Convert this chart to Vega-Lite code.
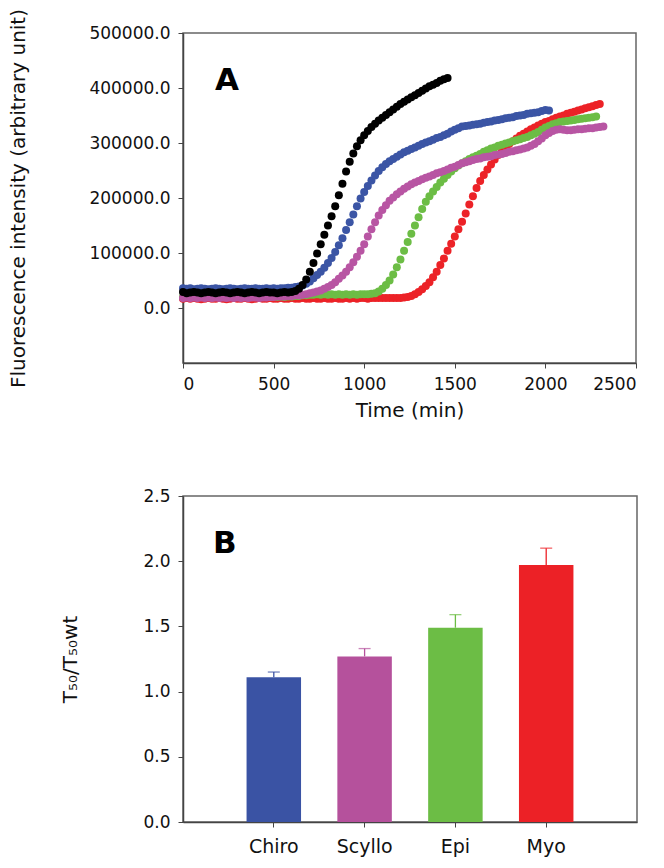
{
  "$schema": "https://vega.github.io/schema/vega-lite/v6.json",
  "padding": {"left": 8, "top": 7, "right": 5, "bottom": 5},
  "bounds": "flush",
  "spacing": 133,
  "resolve": {"scale": {"color": "independent"}},
  "config": {
    "font": "DejaVu Sans",
    "view": {"stroke": "#666666", "strokeWidth": 1.5},
    "axis": {
      "domainColor": "#444444", "domainWidth": 1.5, "tickColor": "#444444", "tickSize": 5,
      "labelFontSize": 17, "labelColor": "#111111", "labelPadding": 8, "labelFont": "DejaVu Sans",
      "titleFontSize": 20, "titleFontWeight": "normal", "titleColor": "#111111", "titleFont": "DejaVu Sans", "grid": false
    }
  },
  "vconcat": [
    {
      "width": 453,
      "height": 330,
      "data": {"values": [
        {"t":0,"s5":29000,"s4":36000,"s3":18000,"s2":20000,"s1":17000},
        {"t":20,"s5":27000,"s4":35000,"s3":19000,"s2":21000,"s1":18000},
        {"t":40,"s5":28000,"s4":36000,"s3":18000,"s2":20000,"s1":17000},
        {"t":60,"s5":29000,"s4":34000,"s3":19000,"s2":21000,"s1":18000},
        {"t":80,"s5":28000,"s4":35000,"s3":18000,"s2":20000,"s1":17000},
        {"t":100,"s5":27000,"s4":36000,"s3":19000,"s2":20000,"s1":16000},
        {"t":120,"s5":28000,"s4":35000,"s3":18000,"s2":21000,"s1":17000},
        {"t":140,"s5":29000,"s4":34000,"s3":19000,"s2":20000,"s1":18000},
        {"t":160,"s5":28000,"s4":35000,"s3":18000,"s2":20000,"s1":17000},
        {"t":180,"s5":27000,"s4":36000,"s3":19000,"s2":21000,"s1":17000},
        {"t":200,"s5":28000,"s4":35000,"s3":18000,"s2":20000,"s1":18000},
        {"t":220,"s5":29000,"s4":34000,"s3":19000,"s2":20000,"s1":17000},
        {"t":240,"s5":28000,"s4":35000,"s3":18000,"s2":21000,"s1":16000},
        {"t":260,"s5":27000,"s4":36000,"s3":19000,"s2":20000,"s1":17000},
        {"t":280,"s5":28000,"s4":35000,"s3":18000,"s2":20000,"s1":18000},
        {"t":300,"s5":29000,"s4":34000,"s3":19000,"s2":21000,"s1":17000},
        {"t":320,"s5":28000,"s4":35000,"s3":18000,"s2":20000,"s1":17000},
        {"t":340,"s5":27000,"s4":36000,"s3":19000,"s2":20000,"s1":18000},
        {"t":360,"s5":28000,"s4":35000,"s3":18000,"s2":21000,"s1":17000},
        {"t":380,"s5":29000,"s4":35000,"s3":19000,"s2":20000,"s1":16000},
        {"t":400,"s5":28000,"s4":36000,"s3":19000,"s2":20000,"s1":17000},
        {"t":420,"s5":27000,"s4":35000,"s3":18000,"s2":21000,"s1":18000},
        {"t":440,"s5":28000,"s4":35000,"s3":19000,"s2":20000,"s1":17000},
        {"t":460,"s5":29000,"s4":36000,"s3":19000,"s2":21000,"s1":17000},
        {"t":480,"s5":28000,"s4":35000,"s3":20000,"s2":20000,"s1":18000},
        {"t":500,"s5":28000,"s4":36000,"s3":20000,"s2":21000,"s1":17000},
        {"t":520,"s5":27000,"s4":35000,"s3":21000,"s2":20000,"s1":17000},
        {"t":540,"s5":28000,"s4":36000,"s3":21000,"s2":21000,"s1":18000},
        {"t":560,"s5":29000,"s4":36000,"s3":21000,"s2":20000,"s1":17000},
        {"t":580,"s5":28000,"s4":37000,"s3":22000,"s2":21000,"s1":17000},
        {"t":600,"s5":29000,"s4":37000,"s3":22000,"s2":21000,"s1":18000},
        {"t":620,"s5":31000,"s4":38000,"s3":23000,"s2":22000,"s1":17000},
        {"t":640,"s5":35000,"s4":39000,"s3":23000,"s2":22000,"s1":17000},
        {"t":660,"s5":42000,"s4":41000,"s3":24000,"s2":23000,"s1":18000},
        {"t":680,"s5":52000,"s4":44000,"s3":25000,"s2":23000,"s1":17000},
        {"t":700,"s5":66000,"s4":48000,"s3":27000,"s2":24000,"s1":17000},
        {"t":720,"s5":82000,"s4":54000,"s3":28000,"s2":24000,"s1":18000},
        {"t":740,"s5":99000,"s4":60000,"s3":30000,"s2":25000,"s1":17000},
        {"t":760,"s5":116000,"s4":66000,"s3":32000,"s2":24000,"s1":17000},
        {"t":780,"s5":133000,"s4":73000,"s3":35000,"s2":25000,"s1":18000},
        {"t":800,"s5":150000,"s4":82000,"s3":38000,"s2":24000,"s1":17000},
        {"t":820,"s5":167000,"s4":91000,"s3":42000,"s2":25000,"s1":17000},
        {"t":840,"s5":185000,"s4":102000,"s3":47000,"s2":24000,"s1":18000},
        {"t":860,"s5":205000,"s4":114000,"s3":53000,"s2":25000,"s1":17000},
        {"t":880,"s5":226000,"s4":127000,"s3":59000,"s2":24000,"s1":17000},
        {"t":900,"s5":248000,"s4":142000,"s3":66000,"s2":25000,"s1":18000},
        {"t":920,"s5":266000,"s4":156000,"s3":74000,"s2":24000,"s1":17000},
        {"t":940,"s5":281000,"s4":170000,"s3":83000,"s2":25000,"s1":18000},
        {"t":960,"s5":294000,"s4":185000,"s3":93000,"s2":24000,"s1":17000},
        {"t":980,"s5":305000,"s4":199000,"s3":104000,"s2":25000,"s1":18000},
        {"t":1000,"s5":314000,"s4":211000,"s3":116000,"s2":25000,"s1":18000},
        {"t":1020,"s5":322000,"s4":222000,"s3":130000,"s2":25000,"s1":17000},
        {"t":1040,"s5":329000,"s4":232000,"s3":143000,"s2":26000,"s1":18000},
        {"t":1060,"s5":335000,"s4":241000,"s3":156000,"s2":27000,"s1":18000},
        {"t":1080,"s5":341000,"s4":249000,"s3":168000,"s2":30000,"s1":18000},
        {"t":1100,"s5":346000,"s4":256000,"s3":178000,"s2":35000,"s1":18000},
        {"t":1120,"s5":351000,"s4":262000,"s3":187000,"s2":42000,"s1":18000},
        {"t":1140,"s5":356000,"s4":267000,"s3":195000,"s2":50000,"s1":18000},
        {"t":1160,"s5":361000,"s4":271000,"s3":201000,"s2":61000,"s1":18000},
        {"t":1180,"s5":366000,"s4":275000,"s3":207000,"s2":74000,"s1":18000},
        {"t":1200,"s5":371000,"s4":279000,"s3":212000,"s2":88000,"s1":18000},
        {"t":1220,"s5":375000,"s4":283000,"s3":217000,"s2":104000,"s1":19000},
        {"t":1240,"s5":379000,"s4":286000,"s3":221000,"s2":120000,"s1":20000},
        {"t":1260,"s5":383000,"s4":289000,"s3":225000,"s2":135000,"s1":22000},
        {"t":1280,"s5":387000,"s4":292000,"s3":228000,"s2":150000,"s1":25000},
        {"t":1300,"s5":391000,"s4":295000,"s3":231000,"s2":165000,"s1":29000},
        {"t":1320,"s5":395000,"s4":298000,"s3":234000,"s2":180000,"s1":34000},
        {"t":1340,"s5":399000,"s4":301000,"s3":237000,"s2":193000,"s1":40000},
        {"t":1360,"s5":403000,"s4":303000,"s3":239000,"s2":203000,"s1":47000},
        {"t":1380,"s5":406000,"s4":306000,"s3":242000,"s2":212000,"s1":56000},
        {"t":1400,"s5":409000,"s4":309000,"s3":245000,"s2":220000,"s1":66000},
        {"t":1420,"s5":413000,"s4":311000,"s3":247000,"s2":228000,"s1":78000},
        {"t":1440,"s5":416000,"s4":314000,"s3":249000,"s2":235000,"s1":90000},
        {"t":1460,"s5":418000,"s4":317000,"s3":252000,"s2":242000,"s1":104000},
        {"t":1480,"s4":321000,"s3":255000,"s2":248000,"s1":117000},
        {"t":1500,"s4":324000,"s3":257000,"s2":254000,"s1":130000},
        {"t":1520,"s4":327000,"s3":260000,"s2":259000,"s1":143000},
        {"t":1540,"s4":330000,"s3":263000,"s2":263000,"s1":157000},
        {"t":1560,"s4":331000,"s3":265000,"s2":267000,"s1":172000},
        {"t":1580,"s4":332000,"s3":267000,"s2":271000,"s1":188000},
        {"t":1600,"s4":333000,"s3":269000,"s2":274000,"s1":203000},
        {"t":1620,"s4":334000,"s3":271000,"s2":277000,"s1":218000},
        {"t":1640,"s4":335000,"s3":272000,"s2":280000,"s1":231000},
        {"t":1660,"s4":337000,"s3":274000,"s2":284000,"s1":242000},
        {"t":1680,"s4":338000,"s3":275000,"s2":287000,"s1":252000},
        {"t":1700,"s4":339000,"s3":276000,"s2":290000,"s1":261000},
        {"t":1720,"s4":341000,"s3":278000,"s2":292000,"s1":270000},
        {"t":1740,"s4":342000,"s3":279000,"s2":295000,"s1":278000},
        {"t":1760,"s4":343000,"s3":280000,"s2":297000,"s1":285000},
        {"t":1780,"s4":345000,"s3":282000,"s2":299000,"s1":292000},
        {"t":1800,"s4":346000,"s3":284000,"s2":301000,"s1":298000},
        {"t":1820,"s4":347000,"s3":285000,"s2":303000,"s1":303000},
        {"t":1840,"s4":349000,"s3":287000,"s2":305000,"s1":308000},
        {"t":1860,"s4":350000,"s3":288000,"s2":307000,"s1":313000},
        {"t":1880,"s4":351000,"s3":290000,"s2":309000,"s1":317000},
        {"t":1900,"s4":353000,"s3":292000,"s2":311000,"s1":321000},
        {"t":1920,"s4":354000,"s3":295000,"s2":314000,"s1":325000},
        {"t":1940,"s4":355000,"s3":298000,"s2":317000,"s1":328000},
        {"t":1960,"s4":356000,"s3":303000,"s2":320000,"s1":332000},
        {"t":1980,"s4":358000,"s3":308000,"s2":324000,"s1":335000},
        {"t":2000,"s4":360000,"s3":314000,"s2":328000,"s1":338000},
        {"t":2020,"s4":359000,"s3":318000,"s2":331000,"s1":340000},
        {"t":2040,"s3":322000,"s2":334000,"s1":343000},
        {"t":2060,"s3":324000,"s2":336000,"s1":346000},
        {"t":2080,"s3":325000,"s2":338000,"s1":348000},
        {"t":2100,"s3":324000,"s2":339000,"s1":350000},
        {"t":2120,"s3":323000,"s2":340000,"s1":353000},
        {"t":2140,"s3":323000,"s2":341000,"s1":355000},
        {"t":2160,"s3":324000,"s2":342000,"s1":357000},
        {"t":2180,"s3":325000,"s2":343000,"s1":359000},
        {"t":2200,"s3":325000,"s2":344000,"s1":361000},
        {"t":2220,"s3":326000,"s2":345000,"s1":363000},
        {"t":2240,"s3":327000,"s2":346000,"s1":365000},
        {"t":2260,"s3":327000,"s2":347000,"s1":367000},
        {"t":2280,"s3":328000,"s2":348000,"s1":369000},
        {"t":2300,"s3":329000,"s1":371000},
        {"t":2320,"s3":330000}
      ]},
      "transform": [
        {"fold": ["s1", "s2", "s3", "s4", "s5"], "as": ["series", "v"]},
        {"filter": "isValid(datum.v)"}
      ],
      "layer": [
        {
          "mark": {"type": "circle", "size": 64, "opacity": 1},
          "encoding": {
            "x": {"field": "t", "type": "quantitative",
              "scale": {"domain": [0, 2500], "nice": false},
              "axis": {"values": [0, 500, 1000, 1500, 2000, 2500], "format": "d", "title": "Time (min)", "titlePadding": 8}},
            "y": {"field": "v", "type": "quantitative",
              "scale": {"domain": [-100000, 500000], "nice": false, "zero": false},
              "axis": {"values": [0, 100000, 200000, 300000, 400000, 500000], "format": ".1f",
                "title": "Fluorescence intensity (arbitrary unit)", "titlePadding": 60}},
            "color": {"field": "series", "type": "nominal",
              "scale": {"domain": ["s1", "s2", "s3", "s4", "s5"],
                "range": ["#ec2227", "#6cbd45", "#b855a3", "#3b55a5", "#000000"]},
              "legend": null},
            "order": {"field": "series"}
          }
        },
        {
          "data": {"values": [{}]},
          "mark": {"type": "text", "text": "A", "fontSize": 31, "fontWeight": "bold", "color": "#000000", "font": "DejaVu Sans"},
          "encoding": {
            "x": {"datum": 243, "type": "quantitative"},
            "y": {"datum": 413000, "type": "quantitative"}
          }
        }
      ]
    },
    {
      "width": 454,
      "height": 326,
      "data": {"values": [
        {"sugar": "Chiro", "ratio": 1.11, "err": 1.15},
        {"sugar": "Scyllo", "ratio": 1.27, "err": 1.33},
        {"sugar": "Epi", "ratio": 1.49, "err": 1.59},
        {"sugar": "Myo", "ratio": 1.97, "err": 2.10}
      ]},
      "encoding": {
        "x": {"field": "sugar", "type": "nominal", "sort": null,
          "scale": {"paddingInner": 0.4, "paddingOuter": 0.7},
          "axis": {"title": null, "labelAngle": 0, "labelFontSize": 19, "labelPadding": 10}}
      },
      "layer": [
        {
          "mark": {"type": "rule", "strokeWidth": 1.3},
          "encoding": {
            "y": {"field": "ratio", "type": "quantitative", "scale": {"domain": [0, 2.5], "nice": false},
              "axis": {"values": [0, 0.5, 1, 1.5, 2, 2.5], "format": ".1f", "title": "T₅₀/T₅₀wt", "titlePadding": 62}},
            "y2": {"field": "err"},
            "color": {"field": "sugar", "type": "nominal",
              "scale": {"domain": ["Chiro", "Scyllo", "Epi", "Myo"], "range": ["#3a53a4", "#b5519c", "#6cbd45", "#ec2126"]},
              "legend": null}
          }
        },
        {
          "mark": {"type": "tick", "thickness": 1.3, "size": 12},
          "encoding": {
            "y": {"field": "err", "type": "quantitative", "scale": {"domain": [0, 2.5], "nice": false},
              "axis": {"values": [0, 0.5, 1, 1.5, 2, 2.5], "format": ".1f", "title": "T₅₀/T₅₀wt", "titlePadding": 62}},
            "color": {"field": "sugar", "type": "nominal", "legend": null}
          }
        },
        {
          "mark": {"type": "bar"},
          "encoding": {
            "y": {"field": "ratio", "type": "quantitative", "scale": {"domain": [0, 2.5], "nice": false},
              "axis": {"values": [0, 0.5, 1, 1.5, 2, 2.5], "format": ".1f", "title": "T₅₀/T₅₀wt", "titlePadding": 62}},
            "color": {"field": "sugar", "type": "nominal", "legend": null}
          }
        },
        {
          "data": {"values": [{}]},
          "mark": {"type": "text", "text": "B", "fontSize": 31, "fontWeight": "bold", "color": "#000000", "dx": -49, "font": "DejaVu Sans"},
          "encoding": {
            "x": {"datum": "Chiro", "type": "nominal"},
            "y": {"datum": 2.13, "type": "quantitative"}
          }
        }
      ]
    }
  ]
}
